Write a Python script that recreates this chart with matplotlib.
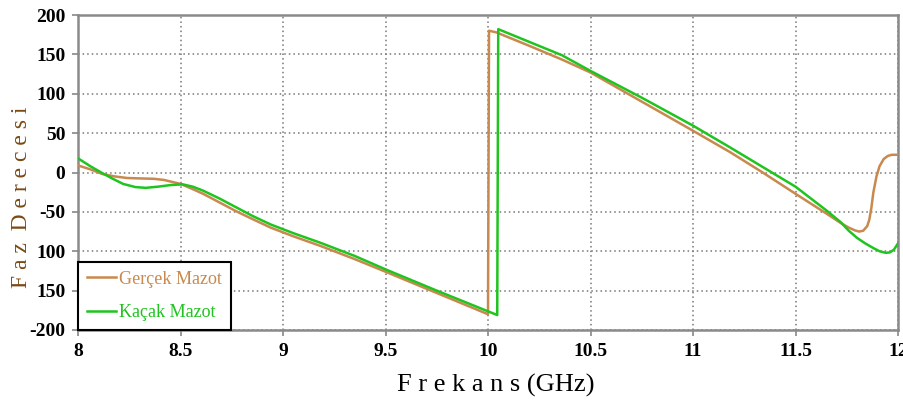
import matplotlib
matplotlib.use("Agg")
import matplotlib.pyplot as plt

# ---- data ----
gercek_x = [8.0, 8.06, 8.12, 8.18, 8.24, 8.3, 8.37, 8.42, 8.46, 8.5, 8.55, 8.61, 8.69, 8.77, 8.85,
            8.94, 9.05, 9.18, 9.35, 9.5, 9.75,
            10.0, 10.005, 10.04, 10.2, 10.36, 10.5, 10.75, 11.0, 11.18, 11.34, 11.5, 11.65, 11.72,
            11.76, 11.79, 11.81, 11.83, 11.85, 11.86, 11.87, 11.88, 11.895, 11.91, 11.93, 11.95,
            11.97, 12.0]
gercek_y = [9, 4, -2, -5, -7, -7.5, -8, -9.5, -12, -14.5, -20, -27, -38, -49, -59,
            -70, -81, -93, -110, -126, -153,
            -180, 180, 178, 161, 143.5, 127, 90, 53, 26, 0, -27, -52, -64,
            -70, -73.5, -75, -74, -68, -60, -45, -25, -5, 8, 17, 21,
            22.5, 22.5]

kacak_x = [8.0, 8.06, 8.12, 8.17, 8.22, 8.28, 8.33, 8.39, 8.45, 8.51, 8.56, 8.61, 8.69, 8.77,
           8.85, 8.94, 9.05, 9.18, 9.35, 9.5, 9.75,
           10.045, 10.05, 10.2, 10.36, 10.5, 10.75, 11.0, 11.18, 11.34, 11.5, 11.65, 11.72, 11.76,
           11.8, 11.84, 11.88, 11.91, 11.94, 11.96, 11.98, 12.0]
kacak_y = [18, 8, -1, -8, -14.5, -18.5, -19.5, -18, -16, -15, -18, -23, -33, -44,
           -55, -66, -77, -89, -106, -123, -150,
           -181, 182, 166, 149, 129, 95, 59.5, 32, 7, -18, -48, -63, -74,
           -83, -90, -96, -100, -102, -101.5, -98, -90]

series_labels = ["Gerçek Mazot", "Kaçak Mazot"]
xticks = [8, 8.5, 9, 9.5, 10, 10.5, 11, 11.5, 12]
xtick_labels = ["8", "8.5", "9", "9.5", "10", "10.5", "11", "11.5", "12"]
yticks = [-200, -150, -100, -50, 0, 50, 100, 150, 200]
ytick_labels = ["-200", "150", "100", "-50", "0", "50", "100", "150", "200"]
xlabel = "F r e k a n s (GHz)"
ylabel = "F a z  D e r e c e s i"

brown = "#C8894E"
green = "#1FC41F"

plt.rcParams['font.family'] = ['Liberation Serif', 'DejaVu Serif']

fig = plt.figure(figsize=(9.04, 4.12), dpi=100)
ax = fig.add_axes([78/904, 1-330/412, (898-78)/904, (330-15)/412])

ax.plot(gercek_x, gercek_y, color=brown, lw=1.8, label=series_labels[0], zorder=3)
ax.plot(kacak_x, kacak_y, color=green, lw=1.8, label=series_labels[1], zorder=4)

ax.set_xlim(8, 12)
ax.set_ylim(-200, 200)
ax.set_xticks(xticks)
ax.set_xticklabels(xtick_labels, fontsize=14, fontweight='bold')
ax.set_yticks(yticks)
ax.set_yticklabels(ytick_labels, fontsize=14, fontweight='bold')
ax.tick_params(axis='both', direction='out', length=4, width=1.2, color='#888888', pad=5)

ax.grid(True, linestyle=(0, (1, 2)), color='#777777', linewidth=1.1)
for s in ax.spines.values():
    s.set_color('#8a8a8a')
    s.set_linewidth(1.8)

ax.set_xlabel(xlabel, fontsize=19, color='black')
ax.xaxis.set_label_coords(0.51, -0.14)
ax.set_ylabel(ylabel, fontsize=17, color='#7a4a14')
ax.yaxis.set_label_coords(-0.056, 0.42)

leg = ax.legend(loc='lower left', borderaxespad=0, frameon=True, fancybox=False,
                edgecolor='black', fontsize=13, handlelength=1.6, handletextpad=0.15,
                labelcolor=[brown, green], borderpad=0.5, labelspacing=0.9)
leg.get_frame().set_linewidth(1.5)
leg.get_frame().set_alpha(1)

fig.savefig("out.png", dpi=100)
